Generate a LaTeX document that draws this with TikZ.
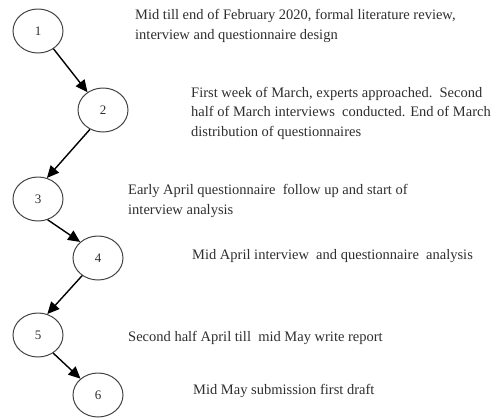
\documentclass[tikz,border=0pt]{standalone}
\usepackage{fontspec}
\setmainfont{Liberation Serif}
\usetikzlibrary{arrows.meta,shapes.geometric}
\definecolor{txt}{HTML}{2E2E2E}
\definecolor{ring}{HTML}{444444}
\tikzset{
  stage/.style={ellipse, draw=ring, line width=1pt, minimum width=50pt, minimum height=44pt, inner sep=0pt, font=\fontsize{13}{15}\selectfont, text=txt},
  note/.style={anchor=west, align=left, inner sep=0pt, text=txt, font=\fontsize{14.5}{19.5}\selectfont},
  arr/.style={draw=black, line width=1.4pt, -{Triangle[length=12pt,width=11pt]}}
}
\begin{document}
\begin{tikzpicture}[x=1pt,y=-1pt]
\useasboundingbox (0,0) rectangle (495,418);
\node[stage] (n1) at (38,31) {1};
\node[stage] (n2) at (103,110) {2};
\node[stage] (n3) at (38,199) {3};
\node[stage] (n4) at (98,258) {4};
\node[stage] (n5) at (38,335) {5};
\node[stage] (n6) at (98,395) {6};

\draw[arr] (n1.-49) -- (n2.131);
\draw[arr] (n2.-124) -- (n3.67);
\draw[arr] (n3.-65) -- (n4.138);
\draw[arr] (n4.-132) -- (n5.66);
\draw[arr] (n5.-50) -- (n6.137);

\node[note] (t1) at (135,26) {Mid till end of February 2020, formal literature review,\\interview and questionnaire design};
\node[note] (t2) at (191,113) {First week of March, experts approached.\ \ Second\\half of March interviews\ \ conducted. End of March\\distribution of questionnaires};
\node[note] (t3) at (128,201) {Early April questionnaire\ \ follow up and start of\\interview analysis};
\node[note] (t4) at (192,256) {Mid April interview\ \ and questionnaire\ \ analysis};
\node[note] (t5) at (128,338) {Second half April till\ \ mid May write report};
\node[note] (t6) at (193,391) {Mid May submission first draft};
\end{tikzpicture}
\end{document}
